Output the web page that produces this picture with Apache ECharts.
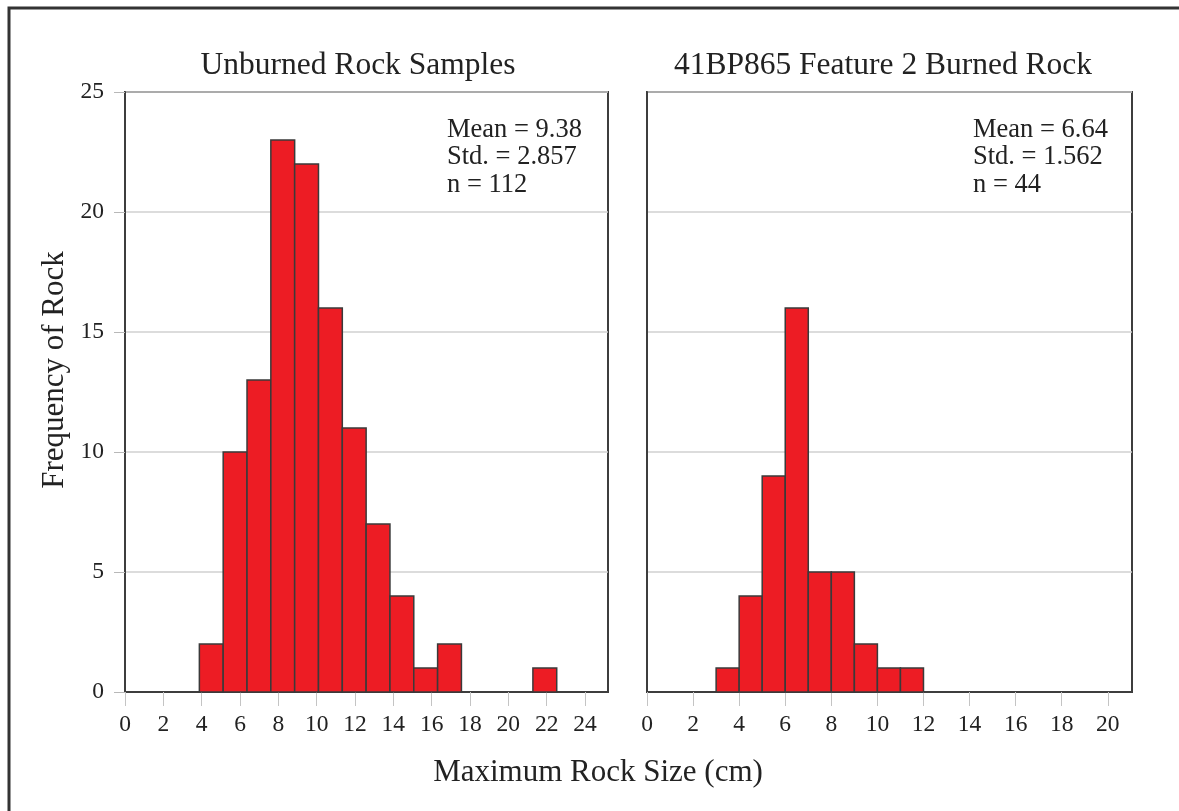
<!DOCTYPE html>
<html>
<head>
<meta charset="utf-8">
<script src="https://cdn.jsdelivr.net/npm/echarts@6/dist/echarts.min.js"></script>
<style>
  html, body { margin: 0; padding: 0; background: #ffffff; }
  #chart { width: 1179px; height: 811px; }
</style>
</head>
<body>
<div id="chart"></div>
<script>
// Histogram counts of maximum rock size (cm)
const unburnedCounts = [2, 10, 13, 23, 22, 16, 11, 7, 4, 1, 2, 0, 0, 0, 1];
const unburnedBinStart = 3.88;
const unburnedBinWidth = 1.243;

const burnedCounts = [1, 4, 9, 16, 5, 5, 2, 1, 1];
const burnedBinStart = 3;
const burnedBinWidth = 1;

// Axis ticks
const unburnedXTicks = [0, 2, 4, 6, 8, 10, 12, 14, 16, 18, 20, 22, 24];
const burnedXTicks = [0, 2, 4, 6, 8, 10, 12, 14, 16, 18, 20];
const freqTicks = [0, 5, 10, 15, 20, 25];

// Text
const panelTitles = ['Unburned Rock Samples', '41BP865 Feature 2 Burned Rock'];
const unburnedStats = ['Mean = 9.38', 'Std. = 2.857', 'n = 112'];
const burnedStats = ['Mean = 6.64', 'Std. = 1.562', 'n = 44'];
const xAxisTitle = 'Maximum Rock Size (cm)';
const yAxisTitle = 'Frequency of Rock';

const FONT = '"Liberation Serif", "DejaVu Serif", serif';
const TEXT_COLOR = '#222';

function binsOf(counts, start, width) {
  return counts.map((c, i) => [start + i * width, start + (i + 1) * width, c]);
}

function renderBin(params, api) {
  const x0 = api.value(0), x1 = api.value(1), y = api.value(2);
  if (!y) return null;
  const top = api.coord([x0, y]);
  const base = api.coord([x1, 0]);
  return {
    type: 'rect',
    shape: { x: top[0], y: top[1], width: base[0] - top[0], height: base[1] - top[1] },
    style: { fill: '#ED1C24', stroke: '#3a3a3a', lineWidth: 1.5 }
  };
}

function xAxisFor(gridIndex, max, ticks) {
  return {
    type: 'value', gridIndex, min: 0, max, interval: 2,
    axisLine: { show: true, lineStyle: { color: '#3d3d3d', width: 2 } },
    axisTick: { show: true, length: 14, customValues: ticks, lineStyle: { color: '#c4c4c4', width: 1 } },
    axisLabel: { customValues: ticks, margin: 21, fontFamily: FONT, fontSize: 23.5, color: TEXT_COLOR },
    splitLine: { show: false }
  };
}

function yAxisFor(gridIndex, withLabels) {
  return {
    type: 'value', gridIndex, min: 0, max: 25, interval: 5,
    axisLine: { show: true, lineStyle: { color: '#3d3d3d', width: 2 } },
    axisTick: { show: withLabels, length: 11, customValues: freqTicks, lineStyle: { color: '#b8b8b8', width: 1 } },
    axisLabel: { show: withLabels, customValues: freqTicks, margin: 21, fontFamily: FONT, fontSize: 23.5, color: TEXT_COLOR },
    splitLine: { show: true, lineStyle: { color: '#d0d0d0', width: 1.5 } }
  };
}

function statsText(lines, x) {
  return lines.map((t, i) => ({
    type: 'text', x, y: 130 + i * 27.5, z: 10,
    style: { text: t, fontFamily: FONT, fontSize: 26.5, fill: TEXT_COLOR, textVerticalAlign: 'middle' }
  }));
}

const chart = echarts.init(document.getElementById('chart'), null, { renderer: 'canvas' });

chart.setOption({
  animation: false,
  backgroundColor: '#ffffff',
  grid: [
    { left: 125, top: 92, width: 483, height: 600, show: true, borderColor: '#3d3d3d', borderWidth: 2, backgroundColor: 'transparent' },
    { left: 647, top: 92, width: 485, height: 600, show: true, borderColor: '#3d3d3d', borderWidth: 2, backgroundColor: 'transparent' }
  ],
  xAxis: [
    xAxisFor(0, 25.2, unburnedXTicks),
    xAxisFor(1, 21.05, burnedXTicks)
  ],
  yAxis: [
    yAxisFor(0, true),
    yAxisFor(1, false)
  ],
  series: [
    {
      type: 'custom', xAxisIndex: 0, yAxisIndex: 0,
      renderItem: renderBin,
      encode: { x: [0, 1], y: 2 },
      data: binsOf(unburnedCounts, unburnedBinStart, unburnedBinWidth)
    },
    {
      type: 'custom', xAxisIndex: 1, yAxisIndex: 1,
      renderItem: renderBin,
      encode: { x: [0, 1], y: 2 },
      data: binsOf(burnedCounts, burnedBinStart, burnedBinWidth)
    }
  ],
  graphic: [
    // outer frame
    { type: 'rect', shape: { x: 9, y: 8, width: 1200, height: 830 }, style: { fill: 'none', stroke: '#333', lineWidth: 3 }, z: 0 },
    // panel titles
    { type: 'text', x: 358, y: 66, style: { text: panelTitles[0], fontFamily: FONT, fontSize: 31.5, fill: TEXT_COLOR, textAlign: 'center', textVerticalAlign: 'middle' } },
    { type: 'text', x: 883, y: 66, style: { text: panelTitles[1], fontFamily: FONT, fontSize: 31.5, fill: TEXT_COLOR, textAlign: 'center', textVerticalAlign: 'middle' } },
    // shared axis titles
    { type: 'text', x: 598, y: 773, style: { text: xAxisTitle, fontFamily: FONT, fontSize: 31, fill: TEXT_COLOR, textAlign: 'center', textVerticalAlign: 'middle' } },
    { type: 'text', x: 55, y: 370, rotation: Math.PI / 2, style: { text: yAxisTitle, fontFamily: FONT, fontSize: 31, fill: TEXT_COLOR, textAlign: 'center', textVerticalAlign: 'middle' } },
    ...statsText(unburnedStats, 447),
    ...statsText(burnedStats, 973)
  ]
});
</script>
</body>
</html>
